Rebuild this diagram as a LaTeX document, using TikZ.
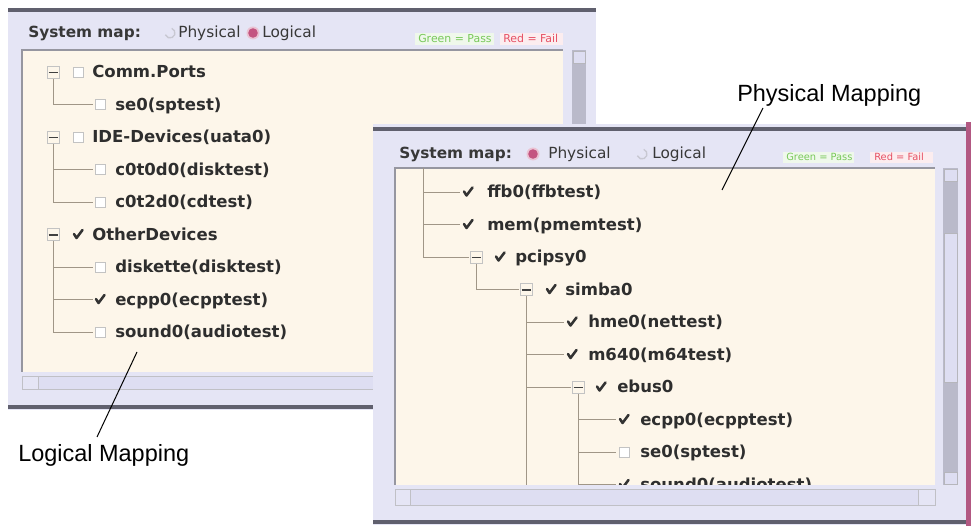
\documentclass[tikz,border=0pt]{standalone}
\usepackage{fontspec}
\setmainfont{DejaVu Sans}
\newfontfamily\calloutfont{Liberation Sans}

\definecolor{winbg}{RGB}{229,229,245}
\definecolor{winband}{RGB}{96,96,110}
\definecolor{paper}{RGB}{253,246,234}
\definecolor{panedge}{RGB}{150,150,160}
\definecolor{treeline}{RGB}{160,150,135}
\definecolor{trough}{RGB}{186,186,202}
\definecolor{thumb}{RGB}{222,222,242}
\definecolor{boxedge}{RGB}{195,195,195}
\definecolor{radioon}{RGB}{196,84,128}
\definecolor{radiooff}{RGB}{200,200,210}
\definecolor{passgreen}{RGB}{120,200,90}
\definecolor{failred}{RGB}{230,80,100}
\definecolor{frameedge}{RGB}{178,88,130}

\tikzset{
  item/.style={anchor=base west, inner sep=0pt, text=black!82, font=\bfseries\fontsize{12.4}{14}\selectfont},
  hdr/.style={anchor=base west, inner sep=0pt, text=black!78, font=\fontsize{11.5}{14}\selectfont},
  hdrbold/.style={hdr, font=\bfseries\fontsize{11.5}{14}\selectfont},
  lgnd/.style={anchor=base west, inner sep=0pt, font=\fontsize{8.2}{9}\selectfont},
  callout/.style={anchor=base west, inner sep=0pt, font=\calloutfont\fontsize{17.6}{20}\selectfont},
  tree/.style={draw=treeline, line width=0.7pt},
  boxoff/.pic={\draw[boxedge, fill=white, line width=0.6pt] (-5,-5) rectangle (5,5);},
  boxon/.pic={\draw[black!80, line width=1.9pt, line join=round, line cap=round] (-4,0.5) -- (-1.5,-3.5) -- (4.5,4.5);},
  expander/.pic={\draw[boxedge, line width=0.6pt] (-6,-6) rectangle (6,6);
                 \draw[black!75, line width=1.3pt] (-4.5,-0.5) -- (4.5,-0.5);},
  radiooff/.pic={\draw[radiooff, line width=1pt] (70:5) arc (70:-160:5);},
  radioon/.pic={\fill[radioon!35] (0,0) circle (6.5); \fill[radioon] (0,0) circle (4.8);},
}

\begin{document}
\begin{tikzpicture}[x=0.75pt,y=0.75pt,yscale=-1,xscale=1]
        \useasboundingbox (0,0) rectangle (975,530);
        \fill[white] (0,0) rectangle (975,530);

        % logical window
        \fill[winbg] (8,8) rectangle (596,410);
        \draw[winband, line width=3pt] (8,10.5) -- (596,10.5);
        \draw[winband, line width=3pt] (8,407) -- (596,407);

        \draw (28,38) node (lhdr) [hdrbold] {System map:};
        \pic at (170,33) {radiooff};
        \draw (178,38) node (lphys) [hdr] {Physical};
        \pic at (253,33) {radioon};
        \draw (262,38) node (llog) [hdr] {Logical};
        \fill[passgreen!12] (415,33) rectangle (494,45);
        \draw (418,43) node (lpass) [lgnd, text=passgreen] {Green = Pass};
        \fill[failred!10] (500,33) rectangle (563,45);
        \draw (503,43) node (lfail) [lgnd, text=failred] {Red = Fail};

        \fill[paper] (22,50) rectangle (563,372);
        \draw[panedge, line width=1.5pt] (22,372) -- (22,50) -- (563,50);
        \fill[trough] (572,50) rectangle (586,372);
        \draw[panedge!70, fill=thumb] (573,51) rectangle (585,63);
        \draw[panedge!60, fill=thumb] (22,376) rectangle (563,389);
        \draw[panedge!60, fill=winbg] (22,376) rectangle (38,389);

        \draw[tree] (53,78) -- (53,104.5);
        \draw[tree] (53,143) -- (53,202);
        \draw[tree] (53,240.5) -- (53,332);

        \foreach \k/\ck/\txt in {0/0/Comm.Ports, 2/0/IDE-Devices(uata0), 5/1/OtherDevices}{
            \pic at (53,72+32.5*\k) {expander};
            \ifnum\ck=1 \pic at (78,72+32.5*\k) {boxon}; \else \pic at (78,72+32.5*\k) {boxoff}; \fi
            \draw (92,78+32.5*\k) node (lrow\k) [item] {\txt};
        }
        \foreach \k/\ck/\txt in {1/0/se0(sptest), 3/0/c0t0d0(disktest), 4/0/c0t2d0(cdtest), 6/0/diskette(disktest), 7/1/ecpp0(ecpptest), 8/0/sound0(audiotest)}{
            \draw[tree] (53,72+32.5*\k) -- (93,72+32.5*\k);
            \ifnum\ck=1 \pic at (100,72+32.5*\k) {boxon}; \else \pic at (100,72+32.5*\k) {boxoff}; \fi
            \draw (115,78+32.5*\k) node (lrow\k) [item] {\txt};
        }

        % physical window
        \fill[winbg] (373,124) rectangle (968,525);
        \draw[winband, line width=3pt] (373,129) -- (968,129);
        \draw[winband, line width=3pt] (373,522) -- (968,522);
        \fill[frameedge] (966,122) rectangle (971,526);

        \draw (399,159) node (rhdr) [hdrbold] {System map:};
        \pic at (533,154) {radioon};
        \draw (548,159) node (rphys) [hdr] {Physical};
        \pic at (642,154) {radiooff};
        \draw (652,159) node (rlog) [hdr] {Logical};
        \fill[passgreen!12] (783,152) rectangle (854,163);
        \draw (786,161) node (rpass) [lgnd, text=passgreen, font=\fontsize{7.4}{8}\selectfont] {Green = Pass};
        \fill[failred!10] (870,152) rectangle (933,163);
        \draw (874,161) node (rfail) [lgnd, text=failred, font=\fontsize{7.4}{8}\selectfont] {Red = Fail};

        \fill[paper] (395,168) rectangle (935,485);
        \draw[panedge, line width=1.5pt] (395,485) -- (395,168) -- (935,168);
        \fill[trough] (943,168) rectangle (958,485);
        \draw[panedge!70, fill=thumb] (944,233) rectangle (957,382);
        \draw[panedge!70, fill=thumb] (944,169) rectangle (957,181);
        \draw[panedge!70, fill=thumb] (944,472) rectangle (957,484);
        \draw[panedge!60, fill=thumb] (395,489) rectangle (935,505);
        \draw[panedge!60, fill=winbg] (395,489) rectangle (410,505);
        \draw[panedge!60, fill=winbg] (918,489) rectangle (935,505);

        \begin{scope}
        \clip (396,169) rectangle (935,485);
        \draw[tree] (423,168) -- (423,257);
        \draw[tree] (476,263) -- (476,289.5);
        \draw[tree] (526,296) -- (526,490);
        \draw[tree] (578,393) -- (578,490);

        \foreach \k/\txt in {0/ffb0(ffbtest), 1/mem(pmemtest)}{
            \draw[tree] (423,192+32.5*\k) -- (460,192+32.5*\k);
            \pic at (468,192+32.5*\k) {boxon};
            \draw (487,198+32.5*\k) node (rrow\k) [item] {\txt};
        }
        \foreach \k/\bx/\ex/\cx/\tx/\txt in {2/423/476/500/515/pcipsy0, 3/476/526/551/565/simba0, 6/526/578/601/617/ebus0}{
            \draw[tree] (\bx,192+32.5*\k) -- (\ex-7,192+32.5*\k);
            \pic at (\ex,192+32.5*\k) {expander};
            \pic at (\cx,192+32.5*\k) {boxon};
            \draw (\tx,198+32.5*\k) node (rrow\k) [item] {\txt};
        }
        \foreach \k/\txt in {4/hme0(nettest), 5/m640(m64test)}{
            \draw[tree] (526,192+32.5*\k) -- (564,192+32.5*\k);
            \pic at (572,192+32.5*\k) {boxon};
            \draw (588,198+32.5*\k) node (rrow\k) [item] {\txt};
        }
        \foreach \k/\ck/\txt in {7/1/ecpp0(ecpptest), 8/0/se0(sptest), 9/1/sound0(audiotest)}{
            \draw[tree] (578,192+32.5*\k) -- (616,192+32.5*\k);
            \ifnum\ck=1 \pic at (624,192+32.5*\k) {boxon}; \else \pic at (624,192+32.5*\k) {boxoff}; \fi
            \draw (640,198+32.5*\k) node (rrow\k) [item] {\txt};
        }
        \end{scope}

        % callouts
        \draw (737,102) node (physlbl) [callout] {Physical Mapping};
        \coordinate (physpt) at (722,190);
        \draw [line width=0.75pt] ([shift={(26,6)}]physlbl.base west) -- (physpt);

        \draw (18,462) node (loglbl) [callout] {Logical Mapping};
        \coordinate (logpt) at (137,352);
        \draw [line width=0.75pt] ([shift={(79,-25)}]loglbl.base west) -- (logpt);
    \end{tikzpicture}
\end{document}
